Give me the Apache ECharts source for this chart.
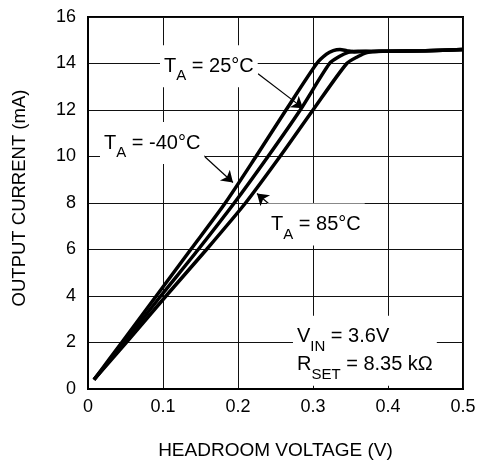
<!DOCTYPE html>
<html>
<head>
<meta charset="utf-8">
<script src="https://cdn.jsdelivr.net/npm/echarts@6/dist/echarts.min.js"></script>
<style>
html,body{margin:0;padding:0;background:#fff;}
#chart{width:481px;height:466px;}
</style>
</head>
<body>
<div id="chart"></div>
<script>
// Data (headroom voltage V, output current mA)
var xTicks = [0, 0.1, 0.2, 0.3, 0.4, 0.5];
var yTicks = [0, 2, 4, 6, 8, 10, 12, 14, 16];

var curveM40 = [[0.008,0.4],[0.045,2],[0.091,4],[0.137,6],[0.183,8],[0.224,10],[0.264,12],[0.305,14],[0.318,14.4],[0.327,14.55],[0.336,14.6],[0.345,14.55],[0.355,14.5],[0.38,14.52],[0.4,14.53],[0.45,14.55],[0.5,14.6]];
var curve25  = [[0.008,0.4],[0.048,2],[0.097,4],[0.147,6],[0.195,8],[0.240,10],[0.283,12],[0.322,14],[0.335,14.3],[0.347,14.48],[0.36,14.53],[0.38,14.52],[0.4,14.53],[0.45,14.55],[0.5,14.6]];
var curve85  = [[0.008,0.4],[0.051,2],[0.104,4],[0.158,6],[0.210,8],[0.256,10],[0.300,12],[0.345,14],[0.36,14.3],[0.372,14.47],[0.388,14.53],[0.4,14.53],[0.45,14.55],[0.5,14.6]];

// annotation anchor points (data coordinates)
var lbl25  = [0.096, 13.88];
var lblM40 = [0.016, 10.58];
var lbl85  = [0.2387, 7.08];
var lblCond = [0.2733, 1.64];
var arrow25  = [[0.2267, 13.56], [0.2867, 12.08]];
var arrowM40 = [[0.1467, 10.26], [0.1933, 8.88]];
var arrow85  = [[0.256, 7.55], [0.2253, 8.41]];

var FONT = "'Liberation Sans', Arial, Helvetica, sans-serif";
var rich = {
  m: {fontSize: 20, fontFamily: FONT, color: '#000', lineHeight: 28},
  s: {fontSize: 15, fontFamily: FONT, color: '#000', lineHeight: 28, padding: [20, 0, 0, 0]}
};

function note(coord, text) {
  return {
    coord: coord,
    symbol: 'circle',
    symbolSize: 0,
    label: {
      show: true,
      position: 'right',
      distance: 0,
      formatter: text,
      backgroundColor: '#fff',
      padding: [7, 4, 7, 4],
      rich: rich
    }
  };
}

var lineStyle = {color: '#000', width: 3.5};

var chart = echarts.init(document.getElementById('chart'));
chart.setOption({
  animation: false,
  backgroundColor: '#fff',
  grid: {left: 88, right: 18, top: 17, bottom: 77, show: true, borderColor: '#000', borderWidth: 2, backgroundColor: 'transparent'},
  xAxis: {
    type: 'value', min: xTicks[0], max: xTicks[xTicks.length - 1], interval: 0.1,
    name: 'HEADROOM VOLTAGE (V)', nameLocation: 'middle', nameGap: 52,
    nameTextStyle: {fontSize: 19, fontFamily: FONT, color: '#000'},
    axisLine: {show: true, lineStyle: {color: '#000', width: 2}},
    axisTick: {show: false},
    axisLabel: {fontSize: 18, fontFamily: FONT, color: '#000', margin: 9},
    splitLine: {show: true, lineStyle: {color: '#111', width: 1}}
  },
  yAxis: {
    type: 'value', min: yTicks[0], max: yTicks[yTicks.length - 1], interval: 2,
    name: 'OUTPUT CURRENT (mA)', nameLocation: 'middle', nameGap: 59,
    nameTextStyle: {fontSize: 18.5, fontFamily: FONT, color: '#000', padding: [0, 0, 0, 10]},
    axisLine: {show: true, lineStyle: {color: '#000', width: 2}},
    axisTick: {show: false},
    axisLabel: {fontSize: 18, fontFamily: FONT, color: '#000', margin: 12},
    splitLine: {show: true, lineStyle: {color: '#111', width: 1}}
  },
  series: [
    {type: 'line', name: '-40', data: curveM40, showSymbol: false, smooth: 0.25, lineStyle: lineStyle, z: 3},
    {type: 'line', name: '25', data: curve25, showSymbol: false, smooth: 0.25, lineStyle: lineStyle, z: 3},
    {type: 'line', name: '85', data: curve85, showSymbol: false, smooth: 0.25, lineStyle: lineStyle, z: 3,
      markPoint: {
        silent: true, animation: false,
        data: [
          note(lbl25, '{m|T}{s|A}{m| = 25°C}'),
          note(lblM40, '{m|T}{s|A}{m| = -40°C}'),
          note(lbl85, '{m|T}{s|A}{m| = 85°C}'),
          note(lblCond, '{m|V}{s|IN}{m| = 3.6V}\n{m|R}{s|SET}{m| = 8.35 kΩ}')
        ]
      }
    },
    {
      type: 'lines', coordinateSystem: 'cartesian2d', silent: true, z: 4,
      symbol: ['none', 'arrow'], symbolSize: 11,
      lineStyle: {color: '#000', width: 1.2, opacity: 1, curveness: 0},
      data: [{coords: arrow25}, {coords: arrowM40}, {coords: arrow85}]
    }
  ]
});
</script>
</body>
</html>
